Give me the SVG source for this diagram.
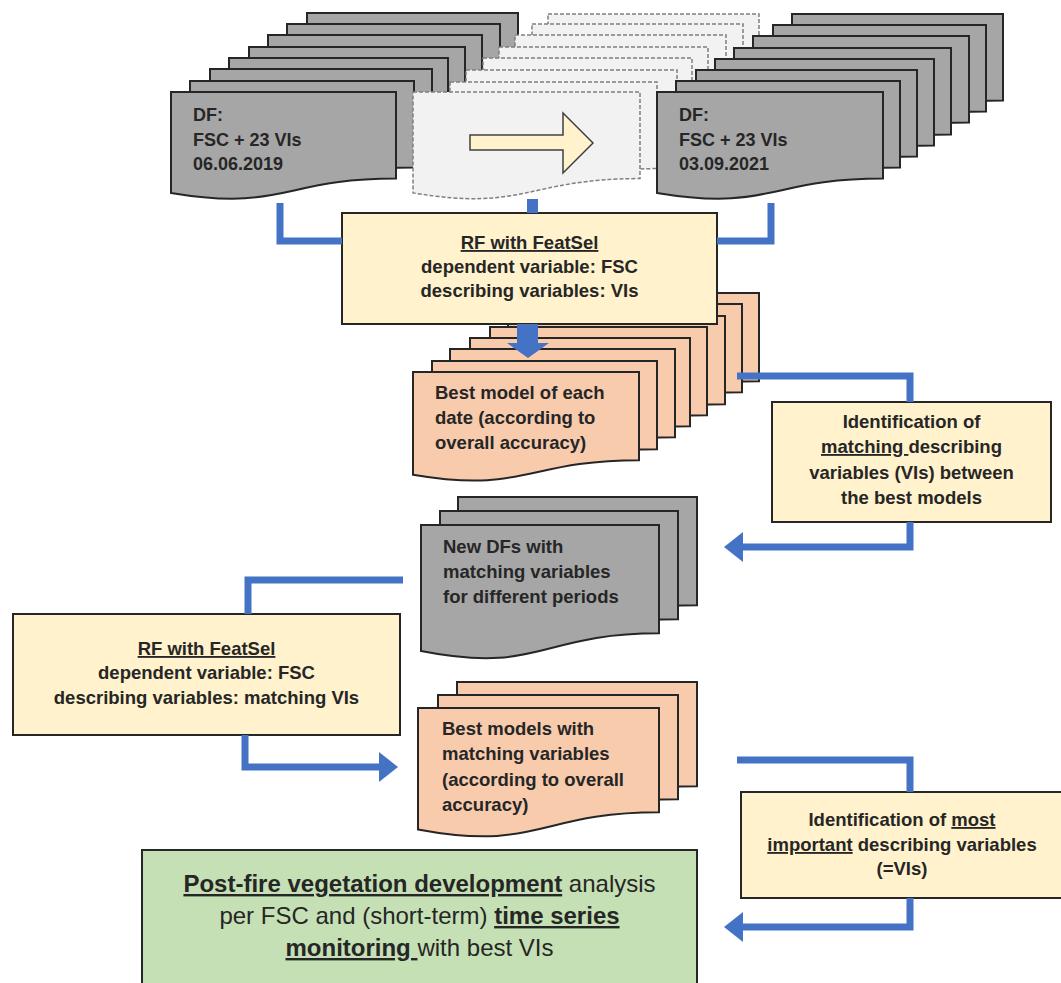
<svg xmlns="http://www.w3.org/2000/svg" width="1061" height="983" viewBox="0 0 1061 983">
<style>
  .grey { fill:#a6a6a6; stroke:#262626; stroke-width:2; }
  .dash { fill:#f2f2f2; stroke:#7f7f7f; stroke-width:1.5; stroke-dasharray:4 2; }
  .orange { fill:#f8cbad; stroke:#262626; stroke-width:2; }
  .yellow { fill:#fff2cc; stroke:#262626; stroke-width:2; }
  .green { fill:#c5e0b4; stroke:#262626; stroke-width:2; }
  text { font-family:"Liberation Sans", Arial, sans-serif; font-weight:bold; font-size:18.5px; fill:#262626; }
  .pg { font-size:18px; }
  .big { font-size:24px; }
  .reg { font-weight:normal; }
  .u { text-decoration:underline; }
  .conn { fill:none; stroke:#4472c4; stroke-width:7; stroke-linejoin:miter; }
  .blue { fill:#4472c4; }
</style>
<defs>
  <marker id="head" markerUnits="userSpaceOnUse" viewBox="0 0 19 30" markerWidth="19" markerHeight="30" refX="1" refY="15" orient="auto">
    <polygon points="0,0 19,15 0,30" fill="#4472c4"/>
  </marker>
</defs>

<g id="df-2019">
  <path class="grey" d="M307,13H518V99.6C412.5,99.6 412.5,132.7 307,113.9Z"/>
  <path class="grey" d="M287,24H500V110.6C393.5,110.6 393.5,143.7 287,124.9Z"/>
  <path class="grey" d="M268,35H482V121.6C375,121.6 375,154.7 268,135.9Z"/>
  <path class="grey" d="M249,47H465V133.6C357,133.6 357,166.7 249,147.9Z"/>
  <path class="grey" d="M229,58H448V144.6C338.5,144.6 338.5,177.7 229,158.9Z"/>
  <path class="grey" d="M210,69H432V155.6C321,155.6 321,188.7 210,169.9Z"/>
  <path class="grey" d="M190,81H414V167.6C302,167.6 302,200.7 190,181.9Z"/>
  <path class="grey" d="M171,92H396V178.6C283.5,178.6 283.5,211.7 171,192.9Z"/>
  <text class="pg" x="193" y="121">DF:</text>
  <text class="pg" x="193" y="146">FSC + 23 VIs</text>
  <text class="pg" x="193" y="170">06.06.2019</text>
</g>

<g id="df-intermediate">
  <path class="dash" d="M548,14H759V100.6C653.5,100.6 653.5,133.7 548,114.9Z"/>
  <path class="dash" d="M532,24H743V110.6C637.5,110.6 637.5,143.7 532,124.9Z"/>
  <path class="dash" d="M515,35H726V121.6C620.5,121.6 620.5,154.7 515,135.9Z"/>
  <path class="dash" d="M499,47H708V133.6C603.5,133.6 603.5,166.7 499,147.9Z"/>
  <path class="dash" d="M483,58H692V144.6C587.5,144.6 587.5,177.7 483,158.9Z"/>
  <path class="dash" d="M466,70H677V156.6C571.5,156.6 571.5,189.7 466,170.9Z"/>
  <path class="dash" d="M450,82H657V168.6C553.5,168.6 553.5,201.7 450,182.9Z"/>
  <path class="dash" d="M413,92H640V178.6C526.5,178.6 526.5,211.7 413,192.9Z"/>
  <polygon points="470,135 563,135 563,113 593,143 563,173 563,150 470,150" fill="#fff2cc" stroke="#404040" stroke-width="1.5"/>
</g>

<g id="df-2021">
  <path class="grey" d="M792,14H1003V100.6C897.5,100.6 897.5,133.7 792,114.9Z"/>
  <path class="grey" d="M773,25H986V111.6C879.5,111.6 879.5,144.7 773,125.9Z"/>
  <path class="grey" d="M753,36H969V122.6C861,122.6 861,155.7 753,136.9Z"/>
  <path class="grey" d="M734,48H951V134.6C842.5,134.6 842.5,167.7 734,148.9Z"/>
  <path class="grey" d="M715,59H934V145.6C824.5,145.6 824.5,178.7 715,159.9Z"/>
  <path class="grey" d="M696,70H917V156.6C806.5,156.6 806.5,189.7 696,170.9Z"/>
  <path class="grey" d="M676,81H900V167.6C788,167.6 788,200.7 676,181.9Z"/>
  <path class="grey" d="M657,92H883V178.6C770,178.6 770,211.7 657,192.9Z"/>
  <text class="pg" x="679" y="121">DF:</text>
  <text class="pg" x="679" y="146">FSC + 23 VIs</text>
  <text class="pg" x="679" y="170">03.09.2021</text>
</g>

<g id="best-model-each-date">
  <path class="orange" d="M542,293H759V381.2C650.5,381.2 650.5,414.9 542,395.7Z"/>
  <path class="orange" d="M525,304H742V392.2C633.5,392.2 633.5,425.9 525,406.7Z"/>
  <path class="orange" d="M508,316H725V404.2C616.5,404.2 616.5,437.9 508,418.7Z"/>
  <path class="orange" d="M490,327H707V415.2C598.5,415.2 598.5,448.9 490,429.7Z"/>
  <path class="orange" d="M470,338H690V426.2C580,426.2 580,459.9 470,440.7Z"/>
  <path class="orange" d="M450,349H675V437.2C562.5,437.2 562.5,470.9 450,451.7Z"/>
  <path class="orange" d="M432,361H657V449.2C544.5,449.2 544.5,482.9 432,463.7Z"/>
  <path class="orange" d="M413,372H639V460.2C526,460.2 526,493.9 413,474.7Z"/>
  <text x="435" y="399">Best model of each</text>
  <text x="435" y="424">date (according to</text>
  <text x="435" y="449">overall accuracy)</text>
</g>

<g id="rf-featsel-1">
  <rect class="yellow" x="342" y="213" width="375" height="111"/>
  <text x="529.5" y="249" text-anchor="middle"><tspan class="u">RF with FeatSel</tspan></text>
  <text x="529.5" y="273" text-anchor="middle">dependent variable: FSC</text>
  <text x="529.5" y="297" text-anchor="middle">describing variables: VIs</text>
</g>

<g id="identification-matching">
  <rect class="yellow" x="772" y="402" width="279" height="120"/>
  <text x="911.5" y="428" text-anchor="middle">Identification of</text>
  <text x="911.5" y="453" text-anchor="middle"><tspan class="u">matching </tspan>describing</text>
  <text x="911.5" y="479" text-anchor="middle">variables (VIs) between</text>
  <text x="911.5" y="504" text-anchor="middle">the best models</text>
</g>

<g id="new-dfs">
  <path class="grey" d="M458,497H697V605.3C577.5,605.3 577.5,646.6 458,623.1Z"/>
  <path class="grey" d="M440,511H678V619.3C559,619.3 559,660.6 440,637.1Z"/>
  <path class="grey" d="M421,525H659V633.3C540,633.3 540,674.6 421,651.1Z"/>
  <text x="443" y="553">New DFs with</text>
  <text x="443" y="578">matching variables</text>
  <text x="443" y="603">for different periods</text>
</g>

<g id="rf-featsel-2">
  <rect class="yellow" x="13" y="614" width="387" height="121"/>
  <text x="206.5" y="655" text-anchor="middle"><tspan class="u">RF with FeatSel</tspan></text>
  <text x="206.5" y="679" text-anchor="middle">dependent variable: FSC</text>
  <text x="206.5" y="704" text-anchor="middle">describing variables: matching VIs</text>
</g>

<g id="best-models-matching">
  <path class="orange" d="M457,682H697V786.3C577,786.3 577,826 457,803.4Z"/>
  <path class="orange" d="M438,695H678V799.3C558,799.3 558,839 438,816.4Z"/>
  <path class="orange" d="M418,708H659V812.3C538.5,812.3 538.5,852 418,829.4Z"/>
  <text x="442" y="735">Best models with</text>
  <text x="442" y="760">matching variables</text>
  <text x="442" y="786">(according to overall</text>
  <text x="442" y="811">accuracy)</text>
</g>

<g id="identification-most-important">
  <rect class="yellow" x="741" y="792" width="324" height="106"/>
  <text x="902" y="826" text-anchor="middle">Identification of <tspan class="u">most</tspan></text>
  <text x="902" y="851" text-anchor="middle"><tspan class="u">important</tspan> describing variables</text>
  <text x="902" y="875" text-anchor="middle">(=VIs)</text>
</g>

<g id="post-fire-analysis">
  <rect class="green" x="142" y="850" width="555" height="145"/>
  <text class="big" x="419.5" y="892" text-anchor="middle"><tspan class="u">Post-fire vegetation development</tspan><tspan class="reg"> analysis</tspan></text>
  <text class="big" x="419.5" y="924" text-anchor="middle"><tspan class="reg">per FSC and (short-term) </tspan><tspan class="u">time series</tspan></text>
  <text class="big" x="419.5" y="956" text-anchor="middle"><tspan class="u">monitoring </tspan><tspan class="reg">with best VIs</tspan></text>
</g>

<g id="connectors">
  <polyline class="conn" points="280,203 280,241 342,241"/>
  <polyline class="conn" points="771,203 771,241 717,241"/>
  <rect class="blue" x="527" y="199" width="11" height="14"/>
  <polygon class="blue" points="517,324 538,324 538,343 549,343 528,358 507,343 517,343"/>
  <polyline class="conn" points="737,376 910,376 910,402"/>
  <polyline class="conn" points="910,522 910,547 742,547" marker-end="url(#head)"/>
  <polyline class="conn" points="403,580 248,580 248,614"/>
  <polyline class="conn" points="245,735 245,767 380,767" marker-end="url(#head)"/>
  <polyline class="conn" points="737,760 910,760 910,792"/>
  <polyline class="conn" points="910,898 910,927 742,927" marker-end="url(#head)"/>
</g>
</svg>
